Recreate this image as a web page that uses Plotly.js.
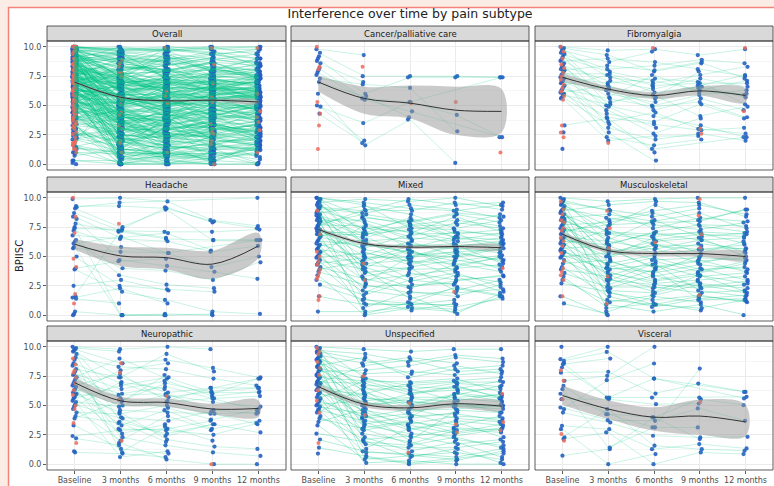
<!DOCTYPE html>
<html>
<head>
<meta charset="utf-8">
<script src="https://cdn.plot.ly/plotly-3.0.1.min.js"></script>
<style>html,body{margin:0;padding:0;background:#fcece6;}#chart{width:774px;height:486px;}</style>
</head>
<body>
<div id="chart"></div>
<script>
const _ = null;
const chartTitle = 'Interference over time by pain subtype';
const yTitle = 'BPIISC';
const timeLabels = ['Baseline', '3 months', '6 months', '9 months', '12 months'];
const panelNames = ['Overall', 'Cancer/palliative care', 'Fibromyalgia', 'Headache', 'Mixed', 'Musculoskeletal', 'Neuropathic', 'Unspecified', 'Visceral'];

// ---- Cancer/palliative care ----
const cancerLines = [
  [9.8, 9.3, _, _, _], [9.5, 7.5, 7.5, 7.5, 7.4], [9.2, _, _, _, _], [9.0, 6.0, 7.4, 7.4, 7.4],
  [8.8, _, _, _, _], [8.6, 7.0, _, _, _], [8.2, 5.6, 5.3, 4.2, 2.3], [8.0, _, _, _, _],
  [7.8, 5.5, 4.5, _, 2.3], [7.6, _, _, _, _], [7.3, 6.8, 6.5, 2.8, _], [7.0, 5.8, 4.0, _, _],
  [6.0, 1.6, 3.8, 0.1, _], [5.0, 2.0, _, _, _], [4.9, 3.5, 5.3, _, 7.4], [4.3, 1.8, _, _, _]
];
const cancerRed = [[0,10],[0,8.3],[0,8.1],[0,5.3],[0,4.3],[0,3.3],[0,1.3],[1,8.3],[2,5.2],[3,5.3],[4,1.0]];
const cancerFit = [7.0, 5.6, 5.2, 4.6, 4.5];
const cancerLo = [6.2, 4.3, 3.9, 2.5, 2.7];
const cancerHi = [7.55, 6.6, 6.7, 6.6, 6.4];

// ---- Fibromyalgia ----
const fibroLines = [
  [10, 9.7, 9.8, 9.3, 9.8], [9.9, 9.3, 7.9, 8.6, _], [9.8, 7.4, 6.9, 7.6, 8.3], [9.7, 8.7, 9.6, _, _],
  [9.5, 6.0, 5.3, 6.5, 5.7], [9.4, 8.1, 8.4, 8.9, 8.6], [9.3, 5.0, 4.1, 3.3, 2.3], [9.1, 7.9, 7.1, 6.3, 7.1],
  [8.9, 6.6, 5.7, 7.9, _], [8.8, 9.0, 8.7, 8.1, 7.5], [8.6, 4.3, 3.6, 5.1, 3.9], [8.4, 7.1, 6.4, 7.3, 6.6],
  [8.3, 5.7, 7.6, 6.1, 6.0], [8.1, 3.1, 2.1, 2.6, 2.0], [8.0, 8.4, 8.0, 8.7, 7.3], [7.9, 6.3, 4.6, 5.6, 4.6],
  [7.7, 7.7, 6.7, 6.9, 6.9], [7.6, 4.9, 3.1, _, _], [7.4, 6.9, 7.3, 7.0, 5.1], [7.3, 2.3, 1.6, 2.1, _],
  [7.1, 5.3, 5.9, 4.1, 4.9], [7.0, 6.4, 5.0, 5.9, 6.3], [6.9, 3.6, 4.4, 3.0, 2.6], [6.7, 7.6, 6.1, 6.6, 5.9],
  [6.6, 4.6, 2.6, 3.9, _], [6.4, 5.6, 4.9, 5.3, 4.0], [6.3, 2.7, 0.3, _, _], [6.1, 6.7, 5.6, 6.7, 7.6],
  [6.0, 4.0, 3.4, 2.9, 3.1], [5.9, 5.1, 6.6, _, _], [5.7, 3.4, 1.3, _, 2.3], [5.6, 2.0, 2.4, 2.4, _],
  [3.3, 3.9, 1.0, _, _], [2.7, _, _, _, _], [1.3, _, _, _, _]
];
const fibroRed = [[0,10],[0,9.6],[0,9.0],[0,8.5],[0,8.2],[0,7.8],[0,7.5],[0,7.2],[0,6.8],[0,6.5],[0,6.2],[0,5.8],[0,5.5],[0,3.3],[0,2.7],[0,2.3],[1,1.8],[2,9.9],[3,2.6],[3,3.0],[4,9.9],[4,4.5]];
const fibroFit = [7.4, 6.4, 5.85, 6.25, 5.85];
const fibroLo = [7.05, 6.15, 5.55, 5.85, 5.25];
const fibroHi = [7.75, 6.65, 6.15, 6.65, 6.45];

// ---- Headache ----
const headLines = [
  [9.9, 10, 9.7, 8.1, 7.6], [9.3, 9.3, 9.1, 8.0, 7.4], [9.1, 7.5, 9.0, 6.4, 6.4], [8.7, 7.2, 7.1, 7.1, 7.3],
  [8.4, 6.6, 7.0, 5.5, _], [8.2, 4.7, 4.2, 3.7, 3.1], [7.8, 7.1, 6.5, 6.4, 6.4], [7.5, 0.0, 0.1, 0.0, _],
  [7.2, 5.8, 5.3, 4.1, 5.0], [6.8, 6.5, 6.3, 5.4, 5.9], [6.4, 3.4, 2.6, 2.3, _], [6.3, 4.0, 3.8, 3.0, 4.5],
  [5.8, 0.0, 0.0, 0.1, _], [5.7, 5.4, 5.3, _, _], [5.0, 2.5, 2.2, 2.0, _], [4.0, 4.6, 4.8, _, _],
  [3.9, 2.0, 1.3, 0.3, 0.1], [2.5, 3.0, 2.1, _, _], [1.5, 2.3, 1.0, _, _], [1.4, 1.0, _, _, _],
  [0.3, 0.0, 0.0, _, _], [0.1, _, _, _, _], [0.0, _, _, _, _], [9.2, 9.6, _, _, 10],
  [1.6, 7.2, 6.6, _, _], [7.4, 7.3, 9.2, 7.9, _], [6.1, 6.7, 5.3, _, 6.4]
];
const headRed = [[0,10],[0,8.4],[0,7.0],[0,4.8],[0,4.1],[0,1.8],[0,1.0],[1,7.8]];
const headFit = [6.05, 5.05, 4.9, 4.35, 5.9];
const headLo = [5.6, 4.2, 3.9, 3.1, 4.9];
const headHi = [6.5, 5.85, 5.75, 5.5, 7.0];

// ---- Mixed ----
const mixedLines = [
  [10, 9.6, 9.1, 8.9, 9.4], [9.9, 8.4, 7.7, 8.1, 7.6], [9.7, 6.1, 5.3, 4.9, 5.7], [9.6, 9.9, 9.7, 10, 9.3],
  [9.4, 7.3, 8.1, 6.6, _], [9.3, 4.1, 2.9, 3.6, 2.4], [9.1, 8.7, 9.4, 9.0, 8.3], [9.0, 2.7, 5.0, 6.0, 4.4],
  [8.9, 7.9, 6.4, 7.1, 6.9], [8.7, 9.3, 8.6, 7.4, 8.1], [8.6, 5.4, 4.3, 5.1, 3.9], [8.4, 6.9, 7.3, 5.9, 6.1],
  [8.3, 0.1, 1.1, 0.7, 1.4], [8.1, 8.1, 7.0, 8.4, 7.1], [8.0, 6.3, 6.6, 6.3, _], [7.9, 3.3, 4.0, 2.1, 3.0],
  [7.7, 7.6, 5.7, 6.7, 6.4], [7.6, 9.0, 8.9, 9.6, 9.0], [7.4, 5.0, 3.1, 4.3, 4.9], [7.3, 6.6, 7.6, 7.7, 8.6],
  [7.1, 4.4, 4.7, 3.3, 2.0], [7.0, 7.1, 6.1, 5.6, 6.0], [6.9, 1.4, 0.4, 1.0, _], [6.7, 5.7, 6.9, 7.0, 5.4],
  [6.6, 8.3, 7.9, 8.6, 7.9], [6.4, 3.7, 2.4, 2.9, 3.4], [6.3, 6.0, 5.4, 4.6, 5.1], [6.1, 4.7, 5.9, 6.1, 6.6],
  [6.0, 2.1, 1.6, 0.1, 1.9], [5.9, 6.4, 4.4, 5.3, 4.7], [5.7, 3.0, 3.4, 3.9, _], [5.6, 5.1, 6.3, 5.0, 5.9],
  [5.4, 0.6, 2.0, 1.6, 2.6], [5.3, 4.3, 3.9, 4.0, 4.3], [5.1, 7.7, 6.7, 7.9, 7.4], [5.0, 2.4, 2.6, 2.7, _],
  [4.9, 5.3, 4.6, 4.4, 3.7], [4.7, 3.9, 1.4, 2.3, 1.6], [4.6, 1.9, 3.6, 3.0, 3.3], [4.4, 4.9, 4.9, 5.4, 4.6],
  [4.3, 1.0, 0.9, 1.3, _], [4.1, 3.1, 2.3, 3.4, 2.8], [3.9, 4.6, 5.6, 4.1, 5.0], [3.7, 2.6, 1.9, 1.9, 2.2],
  [3.4, 0.0, 0.6, 0.3, 1.6], [3.0, 1.7, 3.0, 2.6, _], [2.6, 1.3, 1.0, 2.4, 1.7], [1.6, 0.9, _, 0.9, _],
  [0.3, 0.3, 0.7, 0.5, _], [10, 9.4, 7.4, 7.3, 6.7], [9.9, 7.0, 8.3, 6.9, 7.3], [9.6, 5.9, 6.0, 5.7, 5.3],
  [9.2, 8.9, 9.9, 9.4, 9.6], [8.8, 3.6, 4.1, 4.7, 4.1], [8.5, 7.4, 7.1, 6.4, 7.0], [8.2, 6.7, 5.1, 5.4, 5.6],
  [7.8, 8.6, 8.0, 8.7, 8.4], [7.5, 4.0, 5.6, 3.7, _], [7.2, 5.6, 4.9, 5.9, 6.3], [6.8, 6.9, 7.7, 6.6, 6.1]
];
const mixedRed = [[0,5.4],[0,5.0],[0,4.6],[0,4.3],[0,3.9],[0,3.6],[0,3.3],[0,3.1],[0,1.6],[0,1.3],[0,8.9],[0,6.9],[1,3.0],[1,4.4],[3,2.0],[4,4.0]];
const mixedFit = [7.3, 6.1, 5.8, 5.85, 5.75];
const mixedLo = [7.15, 5.95, 5.65, 5.7, 5.55];
const mixedHi = [7.45, 6.25, 5.95, 6.0, 5.95];

// ---- Musculoskeletal ----
const muscLines = [
  [10, 9.7, 9.9, 10, 10], [9.9, 6.1, 7.0, 6.4, 6.6], [9.7, 3.1, 2.0, 3.4, 2.7], [9.6, 9.0, 8.4, 9.1, _],
  [9.4, 7.6, 9.4, 8.1, 9.0], [9.3, 1.3, 0.9, 0.6, 1.3], [9.1, 8.3, 7.7, 7.3, 7.9], [9.0, 4.9, 6.1, 5.0, _],
  [8.9, 9.4, 9.7, 9.6, 8.4], [8.7, 5.7, 4.0, 4.6, 4.9], [8.6, 7.1, 6.9, 7.0, 6.1], [8.4, 2.3, 3.4, 2.4, 2.9],
  [8.3, 8.6, 8.0, 8.7, 7.4], [8.1, 6.6, 5.3, 6.1, 5.6], [8.0, 4.1, 4.9, 3.9, 4.1], [7.9, 0.3, 1.6, 1.1, _],
  [7.7, 7.9, 8.7, 7.6, 7.1], [7.6, 5.4, 5.9, 5.6, 5.7], [7.4, 3.7, 2.7, 3.0, 3.3], [7.3, 6.9, 6.4, 6.9, 6.7],
  [7.1, 4.6, 3.6, 4.3, 3.9], [7.0, 8.1, 8.9, 9.4, 8.6], [6.9, 2.9, 4.4, 2.1, 1.6], [6.7, 6.3, 5.6, 6.4, 5.4],
  [6.6, 5.0, 6.6, 5.3, 6.3], [6.4, 1.9, 1.3, 1.7, 1.1], [6.3, 6.0, 7.1, 7.7, 7.6], [6.1, 4.3, 3.0, 3.6, 4.4],
  [6.0, 7.3, 6.0, 5.9, _], [5.9, 3.4, 2.3, 2.7, 2.3], [5.7, 5.9, 4.7, 4.9, 4.7], [5.6, 2.6, 3.9, 1.3, 1.4],
  [5.4, 4.4, 5.1, 5.6, 6.0], [5.3, 0.9, 0.3, 0.9, 0.0], [5.1, 3.9, 4.3, 3.3, 3.6], [5.0, 5.3, 6.3, 6.6, 5.0],
  [4.9, 2.1, 1.9, 2.9, _], [4.7, 3.0, 2.6, 2.3, 2.6], [4.4, 4.7, 3.3, 4.0, 3.0], [4.1, 1.6, 0.7, 1.4, 1.7],
  [3.9, 3.3, 4.6, 3.7, 4.6], [3.6, 2.4, 2.4, 1.9, 2.1], [3.3, 0.6, 1.0, 0.4, _], [3.0, 1.1, 1.7, 2.6, 1.9],
  [2.7, 2.0, 0.9, 1.6, 1.2], [1.6, 0.0, _, _, _], [1.0, 0.1, _, _, _], [9.8, 8.9, 7.4, 8.3, 8.0],
  [9.5, 7.0, 6.7, 7.1, 6.9], [8.8, 5.1, 5.7, 4.4, 5.3], [8.2, 6.4, 8.1, 6.7, 7.0], [7.8, 4.0, 3.7, 5.1, _],
  [7.2, 7.7, 7.9, 8.0, 9.0], [6.5, 5.6, 4.1, 4.7, 3.7], [5.5, 3.6, 2.9, 3.4, 2.0]
];
const muscRed = [[0,9.7],[0,9.0],[0,8.6],[0,8.1],[0,7.9],[0,7.4],[0,7.2],[0,6.6],[0,6.3],[0,5.9],[0,5.3],[0,4.6],[0,4.0],[0,3.7],[0,3.4],[0,3.0],[0,1.6],[1,8.9],[1,7.4],[1,5.7],[1,3.3],[1,1.0],[2,6.2],[3,9.9],[3,8.5],[3,6.9],[3,5.7],[3,1.7]];
const muscFit = [6.9, 5.5, 5.25, 5.25, 5.0];
const muscLo = [6.7, 5.3, 5.05, 5.0, 4.65];
const muscHi = [7.1, 5.7, 5.45, 5.5, 5.35];

// ---- Neuropathic ----
const neuroLines = [
  [10, 9.8, 10, 9.8, _], [9.9, 9.6, _, _, _], [9.8, 8.6, 8.9, 8.2, 7.4], [9.7, 5.3, 7.6, _, _],
  [9.6, 7.4, 6.1, 6.5, 7.3], [9.4, 3.6, 2.6, 3.4, _], [9.1, 8.3, 8.1, 7.3, 6.7], [8.9, 1.0, 3.2, 2.0, _],
  [8.6, 6.9, 5.7, 6.2, 6.5], [8.4, 4.6, 4.4, 4.3, 4.4], [8.1, 7.4, 9.4, 7.9, _], [7.9, 2.3, 1.6, 1.0, 0.7],
  [7.7, 6.4, 7.1, 5.8, 6.2], [7.6, 5.6, 4.8, 3.8, 4.7], [7.4, 9.0, 7.3, _, _], [7.3, 3.0, 2.9, 2.5, 3.5],
  [7.1, 6.0, 6.6, 5.6, 5.8], [6.9, 4.0, 3.7, 4.5, _], [6.7, 7.7, 5.4, 6.5, 6.5], [6.6, 1.8, 0.4, 0.0, 0.0],
  [6.4, 5.0, 5.9, 5.3, 4.9], [6.3, 3.3, 4.6, 3.0, 3.7], [6.1, 8.0, 8.6, _, _], [6.0, 4.4, 2.1, 1.5, 1.3],
  [5.9, 5.9, 6.0, 4.6, 4.3], [5.7, 2.6, 3.4, _, _], [5.6, 6.7, 7.4, 6.1, 6.1], [5.4, 0.6, 1.1, _, _],
  [5.3, 4.9, 5.3, 5.6, 4.6], [5.1, 3.9, 2.4, 3.4, 2.7], [4.9, 7.0, 6.4, _, _], [4.7, 2.0, 4.1, 2.9, _],
  [4.4, 4.3, 5.0, 4.3, 3.4], [4.1, 3.5, 1.9, _, _], [3.9, 5.4, 6.9, 6.0, 7.3], [3.3, 1.3, 0.9, _, _],
  [2.4, 2.9, 3.0, 3.7, _], [2.2, 1.6, _, _, _], [1.0, 0.9, 0.6, _, _], [1.1, _, _, _, _]
];
const neuroRed = [[0,9.0],[0,8.5],[0,8.0],[0,7.8],[0,7.4],[0,6.9],[0,6.3],[0,5.9],[0,5.0],[0,4.7],[0,3.5],[0,1.8],[1,8.6],[1,7.8],[1,5.5],[1,2.0],[2,5.8],[3,0.0]];
const neuroFit = [6.95, 5.4, 5.25, 4.7, 4.75];
const neuroLo = [6.5, 5.05, 4.9, 4.25, 4.05];
const neuroHi = [7.4, 5.75, 5.6, 5.15, 5.45];

// ---- Unspecified ----
const unspecLines = [
  [10, 9.8, 9.6, 9.8, 9.8], [9.9, 7.4, 6.3, 6.9, 6.6], [9.8, 4.1, 2.9, 3.6, 2.3], [9.7, 9.4, 8.7, 9.3, 9.0],
  [9.5, 6.1, 5.0, 5.9, 6.7], [9.4, 2.0, 0.6, 1.3, 0.1], [9.3, 8.6, 9.1, 8.6, _], [9.1, 5.3, 4.6, 4.7, 5.0],
  [9.0, 7.7, 7.9, 7.6, 7.9], [8.9, 3.1, 3.7, 2.7, 3.4], [8.7, 6.7, 6.6, 6.4, 7.1], [8.6, 0.6, 0.0, 0.3, 1.1],
  [8.4, 9.1, 7.4, 8.1, 8.4], [8.3, 4.9, 5.6, 5.3, 4.4], [8.1, 6.3, 4.0, 6.1, 5.6], [8.0, 2.6, 1.9, 0.9, _],
  [7.9, 8.0, 8.4, 9.1, 8.7], [7.7, 5.7, 4.9, 5.6, 5.3], [7.6, 3.6, 2.3, 3.0, 2.7], [7.4, 7.1, 7.0, 7.3, 6.1],
  [7.3, 1.3, 3.1, 2.1, 1.6], [7.1, 4.4, 3.4, 4.1, 3.9], [7.0, 6.9, 5.9, 6.6, 5.7], [6.9, 8.4, 8.9, 7.9, 8.1],
  [6.7, 3.9, 4.3, 3.3, 4.1], [6.6, 5.1, 5.3, 5.0, 4.7], [6.4, 2.3, 1.1, 1.9, 0.6], [6.3, 6.0, 6.9, 7.1, 7.4],
  [6.1, 4.6, 3.9, 4.4, _], [6.0, 0.1, 0.3, 0.0, 0.0], [5.9, 5.9, 4.4, 5.1, 4.9], [5.7, 3.3, 2.6, 2.4, 3.0],
  [5.6, 7.1, 6.1, 6.3, 6.4], [5.4, 4.0, 4.7, 3.9, 3.6], [5.3, 1.7, 1.4, 1.4, 1.9], [5.1, 5.4, 5.7, 5.7, 5.9],
  [5.0, 2.9, 3.6, 3.1, 2.9], [4.9, 4.3, 2.0, 4.6, 4.4], [4.7, 1.0, 0.9, 0.6, 1.3], [4.6, 3.7, 3.3, 2.6, 3.1],
  [4.4, 6.6, 5.1, 6.0, 5.4], [4.1, 2.1, 2.4, 1.7, 2.1], [3.9, 3.0, 1.7, 2.9, _], [3.6, 4.7, 3.0, 3.7, 3.3],
  [3.3, 0.4, 0.7, 1.0, 0.4], [2.6, 1.9, 1.6, 2.3, 1.4], [2.1, 1.1, _, 0.4, _], [1.4, 0.7, 0.1, _, 0.9],
  [0.9, _, _, _, _], [9.6, 8.9, 7.7, 8.4, 7.7], [9.2, 6.4, 6.4, 5.4, 6.0], [8.8, 5.0, 6.0, 6.7, 5.6],
  [8.2, 7.3, 6.7, 7.0, 7.0], [7.5, 3.4, 4.1, 4.3, 3.7], [6.8, 5.6, 5.4, 4.9, 5.1]
];
const unspecRed = [[0,9.9],[0,9.6],[0,9.4],[0,8.7],[0,8.2],[0,7.6],[0,6.3],[0,5.4],[0,4.4],[0,1.8],[1,7.5],[1,5.1],[1,4.2],[2,5.2],[2,1.0],[3,2.7],[3,3.4],[4,2.9],[4,3.6],[4,6.0]];
const unspecFit = [6.6, 5.1, 4.8, 5.15, 4.95];
const unspecLo = [6.35, 4.85, 4.55, 4.8, 4.6];
const unspecHi = [6.85, 5.35, 5.05, 5.5, 5.3];

// ---- Visceral ----
const viscLines = [
  [8.95, 10.0, _, _, _], [8.8, 9.57, 7.3, _, 5.6], [8.52, 9.0, _, _, _], [8.24, 5.68, 5.68, 5.68, 5.74],
  [7.8, 7.87, 6.02, 6.87, 6.16], [7.1, 7.53, 10.0, _, _], [6.67, 4.26, 3.98, 5.54, 5.03], [6.39, 1.42, 3.13, 8.15, _],
  [5.54, 5.54, 5.11, 5.17, _], [4.83, 3.75, 3.69, 4.75, 3.69], [4.69, 7.16, 8.58, _, _], [4.4, 3.55, 2.42, 2.28, 2.33],
  [3.27, 2.98, 1.28, 1.71, 1.34], [2.98, 0.0, 0.86, _, _], [2.28, 4.69, 1.57, 1.28, 1.14], [2.14, 2.7, 0.0, 1.0, 0.86],
  [0.72, 1.28, 3.98, 2.14, _], [10.0, _, _, _, _], [6.0, 4.26, 3.13, 3.13, _], [8.6, 5.68, 7.3, _, 6.16]
];
const viscRed = [[0,8.0],[0,7.1],[0,5.54],[0,2.56],[0,2.0],[3,5.3]];
const viscFit = [5.85, 4.7, 4.0, 4.1, 3.6];
const viscLo = [5.05, 3.85, 2.85, 2.5, 2.4];
const viscHi = [6.7, 5.45, 4.85, 5.5, 5.05];

// ---- Overall (all patients) ----
const overallFit = [7.0, 5.7, 5.4, 5.45, 5.3];
const overallLo = [6.9, 5.62, 5.32, 5.35, 5.15];
const overallHi = [7.1, 5.78, 5.48, 5.55, 5.45];

const subLines = [cancerLines, fibroLines, headLines, mixedLines, muscLines, neuroLines, unspecLines, viscLines];
const subReds = [cancerRed, fibroRed, headRed, mixedRed, muscRed, neuroRed, unspecRed, viscRed];
const overallLines = [].concat(...subLines);
const overallRed = [].concat(...subReds);

const panels = [
  {lines: overallLines, red: overallRed, fit: overallFit, lo: overallLo, hi: overallHi},
  {lines: cancerLines, red: cancerRed, fit: cancerFit, lo: cancerLo, hi: cancerHi},
  {lines: fibroLines, red: fibroRed, fit: fibroFit, lo: fibroLo, hi: fibroHi},
  {lines: headLines, red: headRed, fit: headFit, lo: headLo, hi: headHi},
  {lines: mixedLines, red: mixedRed, fit: mixedFit, lo: mixedLo, hi: mixedHi},
  {lines: muscLines, red: muscRed, fit: muscFit, lo: muscLo, hi: muscHi},
  {lines: neuroLines, red: neuroRed, fit: neuroFit, lo: neuroLo, hi: neuroHi},
  {lines: unspecLines, red: unspecRed, fit: unspecFit, lo: unspecLo, hi: unspecHi},
  {lines: viscLines, red: viscRed, fit: viscFit, lo: viscLo, hi: viscHi}
];

// ---- layout geometry (pixels) ----
const W = 774, H = 486;
const colPx = [[47, 286], [291, 529], [535, 773]];
const rowPx = [[41, 170], [192, 321], [341, 470]];
const stripH = 15;
const FONT = 'DejaVu Sans';
const px = v => v / W;
const py = v => 1 - v / H;

const tIdx = [0, 1, 2, 3, 4];
const traces = [];
const layout = {
  width: W, height: H,
  margin: {l: 0, r: 0, t: 0, b: 0},
  paper_bgcolor: '#fcece6',
  plot_bgcolor: '#ffffff',
  showlegend: false,
  font: {family: FONT, color: '#4d4d4d'},
  title: {text: chartTitle, x: 410 / W, xanchor: 'center', y: 1 - 14 / H, yanchor: 'middle',
          font: {family: FONT, size: 12.5, color: '#222222'}},
  shapes: [], annotations: []
};

layout.shapes.push({type: 'rect', xref: 'paper', yref: 'paper', x0: px(8.5), x1: 1.05, y0: -0.05, y1: py(7.5),
  fillcolor: '#ffffff', line: {color: '#f2837a', width: 1.5}, layer: 'below'});

layout.annotations.push({text: yTitle, xref: 'paper', yref: 'paper', x: px(19), y: py(256), textangle: -90,
  showarrow: false, xanchor: 'center', yanchor: 'middle', font: {family: FONT, size: 10, color: '#222222'}});

panels.forEach((p, k) => {
  const r = Math.floor(k / 3), c = k % 3;
  const xa = k === 0 ? 'x' : 'x' + (k + 1);
  const ya = k === 0 ? 'y' : 'y' + (k + 1);
  const xKey = k === 0 ? 'xaxis' : 'xaxis' + (k + 1);
  const yKey = k === 0 ? 'yaxis' : 'yaxis' + (k + 1);
  const dense = p.lines.length > 50;

  layout[xKey] = {
    domain: [px(colPx[c][0]), px(colPx[c][1])], anchor: ya,
    range: [-0.6, 4.6], tickmode: 'array', tickvals: tIdx, ticktext: timeLabels,
    showticklabels: r === 2, ticks: r === 2 ? 'outside' : '', ticklen: 2.5, tickcolor: '#333333', tickwidth: 0.8,
    tickfont: {family: FONT, size: 8, color: '#4d4d4d'},
    showgrid: true, gridcolor: '#ebebeb', gridwidth: 1, zeroline: false, showline: false, fixedrange: true
  };
  layout[yKey] = {
    domain: [py(rowPx[r][1]), py(rowPx[r][0])], anchor: xa,
    range: [-0.5, 10.5], tickmode: 'linear', tick0: 0, dtick: 2.5, tickformat: '.1f',
    showticklabels: c === 0, ticks: c === 0 ? 'outside' : '', ticklen: 3, tickcolor: '#333333', tickwidth: 0.8,
    tickfont: {family: FONT, size: 8, color: '#4d4d4d'},
    showgrid: true, gridcolor: '#ebebeb', gridwidth: 1, zeroline: false, showline: false, fixedrange: true,
    minor: {tick0: 0, dtick: 1.25, showgrid: true, gridcolor: '#f0f0f0', gridwidth: 0.6, ticks: ''}
  };

  // points (blue), from each patient's observed values
  const bx = [], by = [];
  p.lines.forEach((traj, i) => traj.forEach((v, t) => {
    if (v !== null) { bx.push(t + (((i * 7 + t * 3) % 9) - 4) * 0.011); by.push(v); }
  }));
  traces.push({type: 'scatter', mode: 'markers', x: bx, y: by, xaxis: xa, yaxis: ya, hoverinfo: 'skip',
    marker: {size: 4.2, color: 'rgba(38,94,196,0.9)', line: {width: 0}}});
  // red points
  traces.push({type: 'scatter', mode: 'markers', xaxis: xa, yaxis: ya, hoverinfo: 'skip',
    x: p.red.map((d, i) => d[0] + ((i * 5 % 7) - 3) * 0.012), y: p.red.map(d => d[1]),
    marker: {size: 4, color: 'rgba(240,104,92,0.85)', line: {width: 0}}});
  // spaghetti lines
  const lx = [], ly = [];
  p.lines.forEach(traj => {
    traj.forEach((v, t) => { if (v !== null) { lx.push(t); ly.push(v); } });
    lx.push(null); ly.push(null);
  });
  traces.push({type: 'scatter', mode: 'lines', x: lx, y: ly, xaxis: xa, yaxis: ya, hoverinfo: 'skip',
    connectgaps: false, line: {color: dense ? 'rgba(0,196,130,0.5)' : 'rgba(0,196,130,0.36)', width: 0.6}});
  // ribbon
  traces.push({type: 'scatter', mode: 'lines', xaxis: xa, yaxis: ya, hoverinfo: 'skip',
    x: tIdx.concat(tIdx.slice().reverse()), y: p.hi.concat(p.lo.slice().reverse()),
    fill: 'toself', fillcolor: 'rgba(150,150,150,0.5)', line: {width: 0, shape: 'spline', smoothing: 1}});
  // smooth
  traces.push({type: 'scatter', mode: 'lines', x: tIdx, y: p.fit, xaxis: xa, yaxis: ya, hoverinfo: 'skip',
    line: {color: '#333333', width: 1, shape: 'spline', smoothing: 1}});

  // strip
  layout.shapes.push({type: 'rect', xref: 'paper', yref: 'paper',
    x0: px(colPx[c][0]), x1: px(colPx[c][1]), y0: py(rowPx[r][0]), y1: py(rowPx[r][0] - stripH),
    fillcolor: '#d9d9d9', line: {color: '#333333', width: 0.8}, layer: 'above'});
  layout.annotations.push({text: panelNames[k], xref: 'paper', yref: 'paper', showarrow: false,
    x: px((colPx[c][0] + colPx[c][1]) / 2), y: py(rowPx[r][0] - stripH / 2), xanchor: 'center', yanchor: 'middle',
    font: {family: FONT, size: 8.5, color: '#1a1a1a'}});
  // panel border
  layout.shapes.push({type: 'rect', xref: 'paper', yref: 'paper',
    x0: px(colPx[c][0]), x1: px(colPx[c][1]), y0: py(rowPx[r][1]), y1: py(rowPx[r][0]),
    fillcolor: 'rgba(0,0,0,0)', line: {color: '#333333', width: 0.8}, layer: 'above'});
});

Plotly.newPlot('chart', traces, layout, {staticPlot: true, displayModeBar: false});
</script>
</body>
</html>
